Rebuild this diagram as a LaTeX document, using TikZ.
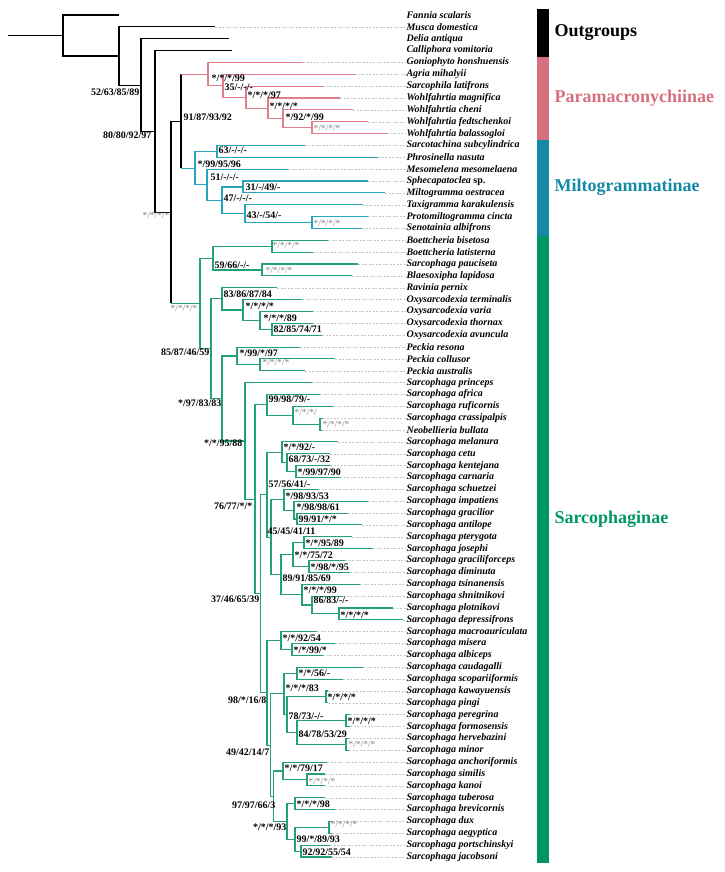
\documentclass[tikz,border=0pt]{standalone}
\usepackage{fontspec}
\setmainfont{Liberation Serif}
\definecolor{pmcol}{RGB}{214,112,126}
\definecolor{micol}{RGB}{20,138,166}
\definecolor{sacol}{RGB}{0,150,100}
\definecolor{pmline}{RGB}{226,126,140}
\definecolor{miline}{RGB}{40,165,190}
\definecolor{saline}{RGB}{36,160,122}

\begin{document}
\begin{tikzpicture}[x=1pt, y=-1pt, line width=1.1pt,
    taxon/.style={anchor=west, inner sep=0pt, font=\fontsize{10}{12}\selectfont\bfseries\itshape},
    supp/.style={inner sep=0pt, font=\fontsize{10}{12}\selectfont\bfseries},
    suppl/.style={inner sep=0pt, text=gray, font=\fontsize{9.5}{12}\selectfont},
    leader/.style={gray!45, line width=0.4pt, dash pattern=on 2pt off 1.5pt},
    group/.style={anchor=west, inner sep=0pt, font=\fontsize{18}{20}\selectfont\bfseries}]
    \useasboundingbox (0,0) rectangle (724,872);

    % Taxa (tip end x / name), one row every 11.86 px
    \foreach \i/\tx/\nm in {1/119/Fannia scalaris, 2/215/Musca domestica, 3/229/Delia antiqua,
        4/232/Calliphora vomitoria, 5/303/Goniophyto honshuensis, 6/355/Agria mihalyii,
        7/323/Sarcophila latifrons, 8/340/Wohlfahrtia magnifica, 9/353/Wohlfahrtia cheni,
        10/368/Wohlfahrtia fedtschenkoi, 11/387/Wohlfahrtia balassogloi,
        12/305/Sarcotachina subcylindrica, 13/378/Phrosinella nasuta,
        14/288/Mesomelena mesomelaena, 15/368/Sphecapatoclea \textup{sp.},
        16/385/Miltogramma oestracea, 17/363/Taxigramma karakulensis,
        18/368/Protomiltogramma cincta, 19/362/Senotainia albifrons,
        20/328/Boettcheria bisetosa, 21/313/Boettcheria latisterna, 22/358/Sarcophaga pauciseta,
        23/352/Blaesoxipha lapidosa, 24/277/Ravinia pernix, 25/302/Oxysarcodexia terminalis,
        26/313/Oxysarcodexia varia, 27/313/Oxysarcodexia thornax, 28/322/Oxysarcodexia avuncula,
        29/300/Peckia resona, 30/335/Peckia collusor, 31/305/Peckia australis,
        32/312/Sarcophaga princeps, 33/320/Sarcophaga africa, 34/333/Sarcophaga ruficornis,
        35/323/Sarcophaga crassipalpis, 36/322/Neobellieria bullata, 37/338/Sarcophaga melanura,
        38/330/Sarcophaga cetu, 39/330/Sarcophaga kentejana, 40/340/Sarcophaga carnaria,
        41/318/Sarcophaga schuetzei, 42/368/Sarcophaga impatiens, 43/348/Sarcophaga gracilior,
        44/362/Sarcophaga antilope, 45/352/Sarcophaga pterygota, 46/373/Sarcophaga josephi,
        47/345/Sarcophaga graciliforceps, 48/350/Sarcophaga diminuta,
        49/360/Sarcophaga tsinanensis, 50/343/Sarcophaga shnitnikovi,
        51/393/Sarcophaga plotnikovi, 52/403/Sarcophaga depressifrons,
        53/317/Sarcophaga macroauriculata, 54/335/Sarcophaga misera, 55/323/Sarcophaga albiceps,
        56/363/Sarcophaga caudagalli, 57/343/Sarcophaga scopariiformis,
        58/328/Sarcophaga kawayuensis, 59/328/Sarcophaga pingi, 60/350/Sarcophaga peregrina,
        61/350/Sarcophaga formosensis, 62/349/Sarcophaga hervebazini, 63/349/Sarcophaga minor,
        64/327/Sarcophaga anchoriformis, 65/325/Sarcophaga similis, 66/325/Sarcophaga kanoi,
        67/325/Sarcophaga tuberosa, 68/335/Sarcophaga brevicornis, 69/332/Sarcophaga dux,
        70/332/Sarcophaga aegyptica, 71/330/Sarcophaga portschinskyi,
        72/332/Sarcophaga jacobsoni} {
        \pgfmathsetmacro{\yy}{15+(\i-1)*11.859}
        \coordinate (t\i) at (\tx,\yy);
        \node[taxon] (l\i) at (406,\yy) {\nm};
    }
    % dotted leaders from tips to names
    \foreach \i in {2,5,6,...,72}
        \draw[leader] (t\i) -- (l\i.west);

    % Backbone
    \coordinate (nA) at (63,35.49);
    \coordinate (nB) at (119,55.97);
    \coordinate (nC) at (141,85.07);
    \coordinate (nD) at (155,131.42);
    \coordinate (nE) at (171,212.25);
    \coordinate (nF) at (181,121.09);
    % Paramacronychiinae
    \coordinate (pA) at (208,74.12);
    \coordinate (pB) at (223,85.79);
    \coordinate (pC) at (246,97.27);
    \coordinate (pD) at (268,108.39);
    \coordinate (pE) at (283,118.77);
    \coordinate (pF) at (312,127.66);
    % Miltogrammatinae
    \coordinate (mA) at (195,168.06);
    \coordinate (mB) at (217,151.38);
    \coordinate (mC) at (207,184.74);
    \coordinate (mD) at (222,200.30);
    \coordinate (mE) at (243,186.96);
    \coordinate (mF) at (245,213.64);
    \coordinate (mG) at (312,222.53);
    % Sarcophaginae
    \coordinate (s1) at (200,303.40);
    \coordinate (s2) at (213,258.11);
    \coordinate (s3) at (272,246.25);
    \coordinate (s4) at (262,269.97);
    \coordinate (s5) at (211,348.68);
    \coordinate (s6) at (222,298.88);
    \coordinate (s7) at (243,310.00);
    \coordinate (s8) at (260,320.38);
    \coordinate (s9) at (272,329.27);
    \coordinate (s10) at (222,398.47);
    \coordinate (s11) at (237,355.95);
    \coordinate (s12) at (260,364.84);
    \coordinate (s13) at (245,440.98);
    \coordinate (s14) at (255,499.33);
    \coordinate (s15) at (267,404.87);
    \coordinate (s16) at (293,415.25);
    \coordinate (s17) at (320,424.14);
    \coordinate (s18) at (260.5,593.79);
    \coordinate (s19) at (267,494.75);
    \coordinate (s20) at (282,452.31);
    \coordinate (s21) at (287,462.68);
    \coordinate (s22) at (296,471.57);
    \coordinate (s23) at (271,537.18);
    \coordinate (s24) at (284,499.74);
    \coordinate (s25) at (294,510.12);
    \coordinate (s26) at (297,519.01);
    \coordinate (s27) at (281,574.61);
    \coordinate (s28) at (293,554.59);
    \coordinate (s29) at (304,542.73);
    \coordinate (s30) at (309,566.45);
    \coordinate (s31) at (302,594.62);
    \coordinate (s32) at (312,604.99);
    \coordinate (s33) at (339,613.88);
    \coordinate (s34) at (267,692.83);
    \coordinate (s35) at (281,640.57);
    \coordinate (s36) at (292,649.46);
    \coordinate (s37) at (270.5,745.08);
    \coordinate (s38) at (284,693.94);
    \coordinate (s39) at (297,673.18);
    \coordinate (s40) at (287,714.69);
    \coordinate (s41) at (326,696.90);
    \coordinate (s42) at (297,732.48);
    \coordinate (s43) at (346,720.62);
    \coordinate (s44) at (346,744.33);
    \coordinate (s45) at (273.5,796.22);
    \coordinate (s46) at (283,771.02);
    \coordinate (s47) at (307,779.91);
    \coordinate (s48) at (287,821.42);
    \coordinate (s49) at (295,803.63);
    \coordinate (s50) at (295,839.21);
    \coordinate (s51) at (329,827.35);
    \coordinate (s52) at (301,851.07);

    % Branches
    \draw (nA) -- ++(-55,0);
    \foreach \p/\c in {nA/t1, nA/nB, nB/t2, nB/nC, nC/t3, nC/nD, nD/t4, nD/nE, nE/nF}
        \draw (\p) |- (\c);
    \draw (nF) -- (nF |- pA);
    \draw[pmline] (nF |- pA) -- (pA);
    \draw (nF) -- (nF |- mA);
    \draw[miline] (nF |- mA) -- (mA);
    \draw (nE) -- (nE |- s1);
    \draw[saline] (nE |- s1) -- (s1);
    \foreach \p/\c in {pA/t5, pA/pB, pB/t6, pB/pC, pC/t7, pC/pD, pD/t8, pD/pE, pE/t9, pE/pF,
        pF/t10, pF/t11}
        \draw[pmline] (\p) |- (\c);
    \foreach \p/\c in {mA/mB, mA/mC, mB/t12, mB/t13, mC/t14, mC/mD, mD/mE, mD/mF, mE/t15,
        mE/t16, mF/t17, mF/mG, mG/t18, mG/t19}
        \draw[miline] (\p) |- (\c);
    \foreach \p/\c in {s1/s2, s1/s5, s2/s3, s2/s4, s3/t20, s3/t21, s4/t22, s4/t23, s5/s6,
        s5/s10, s6/t24, s6/s7, s7/t25, s7/s8, s8/t26, s8/s9, s9/t27, s9/t28, s10/s11, s10/s13,
        s11/t29, s11/s12, s12/t30, s12/t31, s13/t32, s13/s14, s14/s15, s14/s18, s15/t33,
        s15/s16, s16/t34, s16/s17, s17/t35, s17/t36, s18/s19, s18/s34, s19/s20, s19/s23,
        s20/t37, s20/s21, s21/t38, s21/s22, s22/t39, s22/t40, s23/s24, s23/s27, s24/t41,
        s24/s25, s25/t42, s25/s26, s26/t43, s26/t44, s27/s28, s27/s31, s28/s29, s28/s30,
        s29/t45, s29/t46, s30/t47, s30/t48, s31/t49, s31/s32, s32/t50, s32/s33, s33/t51,
        s33/t52, s34/s35, s34/s37, s35/t53, s35/s36, s36/t54, s36/t55, s37/s38, s37/s45,
        s38/s39, s38/s40, s39/t56, s39/t57, s40/s41, s40/s42, s41/t58, s41/t59, s42/s43,
        s42/s44, s43/t60, s43/t61, s44/t62, s44/t63, s45/s46, s45/s48, s46/t64, s46/s47,
        s47/t65, s47/t66, s48/s49, s48/s50, s49/t67, s49/t68, s50/s51, s50/s52, s51/t69,
        s51/t70, s52/t71, s52/t72}
        \draw[saline] (\p) |- (\c);

    % Support values: backbone
    \node[supp, anchor=east] (bnC) at (140,92) {52/63/85/89};
    \node[supp, anchor=east] (bnD) at (152,135) {80/80/92/97};
    \node[suppl, anchor=east] (bnE) at (170,215) {*/*/*/*};
    \node[supp, anchor=west] (bnF) at (183,117) {91/87/93/92};
    % Paramacronychiinae
    \node[supp, anchor=west] (bpA) at (211,78) {*/*/*/99};
    \node[supp, anchor=west] (bpB) at (224,87) {35/-/-/-};
    \node[supp, anchor=west] (bpC) at (247,95) {*/*/*/97};
    \node[supp, anchor=west] (bpD) at (269,106) {*/*/*/*};
    \node[supp, anchor=west] (bpE) at (285,117) {*/92/*/99};
    \node[suppl, anchor=west] (bpF) at (313,128) {*/*/*/*};
    % Miltogrammatinae
    \node[supp, anchor=west] (bmA) at (197,164) {*/99/95/96};
    \node[supp, anchor=west] (bmB) at (218,150) {63/-/-/-};
    \node[supp, anchor=west] (bmC) at (210,177) {51/-/-/-};
    \node[supp, anchor=west] (bmD) at (223,198) {47/-/-/-};
    \node[supp, anchor=west] (bmE) at (245,187) {31/-/49/-};
    \node[supp, anchor=west] (bmF) at (246,215) {43/-/54/-};
    \node[suppl, anchor=west] (bmG) at (313,223) {*/*/*/*};
    % Sarcophaginae
    \node[suppl, anchor=east] (bs1) at (198,308) {*/*/*/*};
    \node[supp, anchor=west] (bs2) at (214,265) {59/66/-/-};
    \node[suppl, anchor=west] (bs3) at (272,245) {*/*/*/*};
    \node[suppl, anchor=west] (bs4) at (265,270) {*/*/*/*};
    \node[supp, anchor=east] (bs5) at (210,352) {85/87/46/59};
    \node[supp, anchor=west] (bs6) at (223,294) {83/86/87/84};
    \node[supp, anchor=west] (bs7) at (245,306) {*/*/*/*};
    \node[supp, anchor=west] (bs8) at (263,318) {*/*/*/89};
    \node[supp, anchor=west] (bs9) at (273,329) {82/85/74/71};
    \node[supp, anchor=east] (bs10) at (222,403) {*/97/83/83};
    \node[supp, anchor=west] (bs11) at (239,353) {*/99/*/97};
    \node[suppl, anchor=west] (bs12) at (262,362) {*/*/*/*};
    \node[supp, anchor=east] (bs13) at (243,443) {*/*/95/88};
    \node[supp, anchor=east] (bs14) at (253,506) {76/77/*/*};
    \node[supp, anchor=west] (bs15) at (268,399) {99/98/79/-};
    \node[suppl, anchor=west] (bs16) at (294,412) {*/*/*/};
    \node[suppl, anchor=west] (bs17) at (322,424) {*/*/*/*};
    \node[supp, anchor=east] (bs18) at (260,599) {37/46/65/39};
    \node[supp, anchor=west] (bs19) at (268,484) {57/56/41/-};
    \node[supp, anchor=west] (bs20) at (283,447.5) {*/*/92/-};
    \node[supp, anchor=west] (bs21) at (288,459) {68/73/-/32};
    \node[supp, anchor=west] (bs22) at (297,472) {*/99/97/90};
    \node[supp, anchor=west] (bs23) at (267,531) {45/45/41/11};
    \node[supp, anchor=west] (bs24) at (285,496) {*/98/93/53};
    \node[supp, anchor=west] (bs25) at (296,507) {*/98/98/61};
    \node[supp, anchor=west] (bs26) at (298,519) {99/91/*/*};
    \node[supp, anchor=west] (bs27) at (282,578) {89/91/85/69};
    \node[supp, anchor=west] (bs28) at (294,555) {*/*/75/72};
    \node[supp, anchor=west] (bs29) at (305,543) {*/*/95/89};
    \node[supp, anchor=west] (bs30) at (310,567) {*/98/*/95};
    \node[supp, anchor=west] (bs31) at (303,590) {*/*/*/99};
    \node[supp, anchor=west] (bs32) at (313,600.5) {86/83/-/-};
    \node[supp, anchor=west] (bs33) at (340,615) {*/*/*/*};
    \node[supp, anchor=east] (bs34) at (267,700) {98/*/16/8};
    \node[supp, anchor=west] (bs35) at (282,638) {*/*/92/54};
    \node[supp, anchor=west] (bs36) at (293,650) {*/*/99/*};
    \node[supp, anchor=east] (bs37) at (270,752) {49/42/14/7};
    \node[supp, anchor=west] (bs38) at (285,688) {*/*/*/83};
    \node[supp, anchor=west] (bs39) at (298,673) {*/*/56/-};
    \node[supp, anchor=west] (bs40) at (288,716) {78/73/-/-};
    \node[supp, anchor=west] (bs41) at (327,697) {*/*/*/*};
    \node[supp, anchor=west] (bs42) at (298,734) {84/78/53/29};
    \node[supp, anchor=west] (bs43) at (347,721) {*/*/*/*};
    \node[suppl, anchor=west] (bs44) at (348,744) {*/*/*/*};
    \node[supp, anchor=east] (bs45) at (276,805) {97/97/66/3};
    \node[supp, anchor=west] (bs46) at (284,768) {*/*/79/17};
    \node[suppl, anchor=west] (bs47) at (308,781) {*/*/*/*};
    \node[supp, anchor=east] (bs48) at (287,827) {*/*/*/93};
    \node[supp, anchor=west] (bs49) at (296,804) {*/*/*/98};
    \node[supp, anchor=west] (bs50) at (296,839) {99/*/89/93};
    \node[suppl, anchor=west] (bs51) at (330,824) {*/*/*/*};
    \node[supp, anchor=west] (bs52) at (302,852) {92/92/55/54};

    % Subfamily bar
    \fill[black] (537,9) rectangle (549,57);
    \fill[pmcol] (537,57) rectangle (549,140);
    \fill[micol] (537,140) rectangle (549,236);
    \fill[sacol] (537,236) rectangle (549,863);
    \node[group] (gOut) at (554,33) {Outgroups};
    \node[group, text=pmcol] (gPar) at (554,98) {Paramacronychiinae};
    \node[group, text=micol] (gMil) at (554,187) {Miltogrammatinae};
    \node[group, text=sacol] (gSar) at (554,519) {Sarcophaginae};
\end{tikzpicture}
\end{document}
